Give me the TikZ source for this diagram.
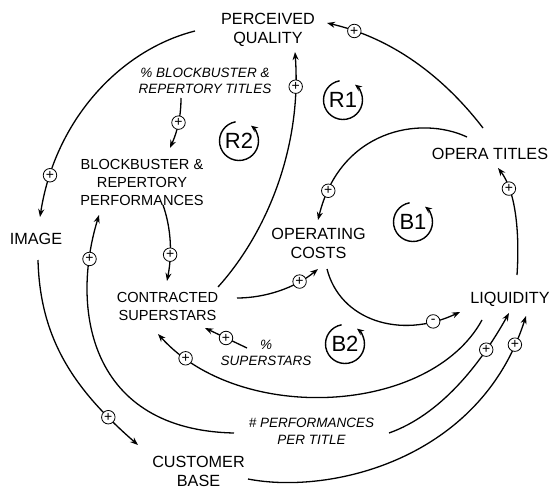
\documentclass[tikz,border=0pt]{standalone}
\usepackage{fontspec}
\setmainfont{Liberation Sans}
\usetikzlibrary{arrows.meta,calc}

\tikzset{
  var/.style={align=center, inner sep=0pt, font=\fontsize{16.2}{18.4}\selectfont},
  varsm/.style={align=center, inner sep=0pt, font=\fontsize{14.6}{18}\selectfont},
  aux/.style={align=center, inner sep=0pt, font=\fontsize{13.5}{16.6}\selectfont\itshape},
  loopname/.style={inner sep=0pt, font=\fontsize{22}{22}\selectfont},
  link/.style={line width=1.3pt, -{Stealth[length=8pt,width=6pt]}},
  looparc/.style={line width=1.4pt, -{Stealth[length=7pt,width=6pt]}},
  sign/.style={circle, draw, fill=white, line width=0.8pt, inner sep=0pt,
    minimum size=13.5pt, font=\fontsize{14}{14}\selectfont},
}

\begin{document}
\begin{tikzpicture}[x=1pt, y=1pt]
\useasboundingbox (0,0) rectangle (551,-489);

% variables
\node[var]    (pq)  at (268,-30)    {PERCEIVED\\QUALITY};
\node[aux]    (bt)  at (205,-81)    {\% BLOCKBUSTER \&\\REPERTORY TITLES};
\node[varsm]  (bp)  at (142,-182)   {BLOCKBUSTER \&\\REPERTORY\\PERFORMANCES};
\node[var]    (img) at (36,-239)    {IMAGE};
\node[var]    (oc)  at (318.5,-243.5) {OPERATING\\COSTS};
\node[var]    (ot)  at (490,-154)   {OPERA TITLES};
\node[var]    (liq) at (510,-299)   {LIQUIDITY};
\node[varsm]  (cs)  at (167.5,-306) {CONTRACTED\\SUPERSTARS};
\node[aux]    (ps)  at (266,-353)   {\%\\SUPERSTARS};
\node[aux]    (np)  at (311.5,-431) {\# PERFORMANCES\\PER TITLE};
\node[var]    (cb)  at (198.5,-471.5) {CUSTOMER\\BASE};

% loop markers
\node[loopname] (r1) at (343,-100) {R1};
\node[loopname] (r2) at (239,-141) {R2};
\node[loopname] (b1) at (413,-222) {B1};
\node[loopname] (b2) at (345,-344) {B2};
\foreach \lp in {r1,r2,b1,b2}
  \draw[looparc] ([shift={(100:19.5)}]\lp.center) arc[start angle=100, end angle=412, radius=19.5];

% causal links
\draw[link] ($(pq)+(-73,-1)$) .. controls (120,-50) and (55,-120) .. ($(img)+(4,22)$)
  node[sign, pos=.85] {+};
\draw[link] ($(bt)+(-24,-17)$) .. controls (181,-115) and (178,-130) .. ($(bp)+(28,34)$)
  node[sign, pos=.5] {+};
\draw[link] ($(bp)+(21,-23)$) .. controls (170,-225) and (173,-250) .. ($(cs)+(-0.5,25)$)
  node[sign, pos=.7] {+};
\draw[link] ($(cs)+(50.5,19)$) .. controls (265,-235) and (302,-150) .. ($(pq)+(27,-22)$)
  node[sign, pos=.88] {+};
\draw[link] ($(ot)+(-7,26)$) .. controls (450,-85) and (400,-40) .. ($(pq)+(59,7)$)
  node[sign, pos=.87] {+};
\draw[link] ($(ot)+(-23,17)$) .. controls (420,-115) and (340,-130) .. ($(oc)+(-0.5,23.5)$)
  node[sign, pos=.88] {+};
\draw[link] ($(liq)+(7,24)$) .. controls (520,-230) and (515,-190) .. ($(ot)+(8,-14)$)
  node[sign, pos=.74] {+};
\draw[link] ($(cs)+(69.5,8)$) .. controls (265,-298) and (295,-288) .. ($(oc)+(-0.5,-25.5)$)
  node[sign, pos=.75] {+};
\draw[link] ($(oc)+(8.5,-25.5)$) .. controls (340,-320) and (400,-340) .. ($(liq)+(-50,-13)$)
  node[sign, pos=.85] {-};
\draw[link] ($(liq)+(-28,-21)$) .. controls (430,-415) and (240,-425) .. ($(cs)+(-9.5,-28)$)
  node[sign, pos=.9] {+};
\draw[link] ($(ps)+(-19,5)$) -- ($(cs)+(37.5,-22)$)
  node[sign, pos=.5] {+};
\draw[link] ($(np)+(77.5,-2)$) .. controls (440,-415) and (480,-365) .. ($(liq)+(-1,-14)$)
  node[sign, pos=.76] {+};
\draw[link] ($(np)+(-77.5,-2)$) .. controls (90,-430) and (70,-310) .. ($(bp)+(-43,-33)$)
  node[sign, pos=.85] {+};
\draw[link] ($(img)+(2,-21)$) .. controls (40,-340) and (75,-390) .. ($(cb)+(-60.5,26.5)$)
  node[sign, pos=.83] {+};
\draw[link] ($(cb)+(49.5,-7.5)$) .. controls (330,-495) and (480,-460) .. ($(liq)+(16,-17)$)
  node[sign, pos=.93] {+};
\end{tikzpicture}
\end{document}
